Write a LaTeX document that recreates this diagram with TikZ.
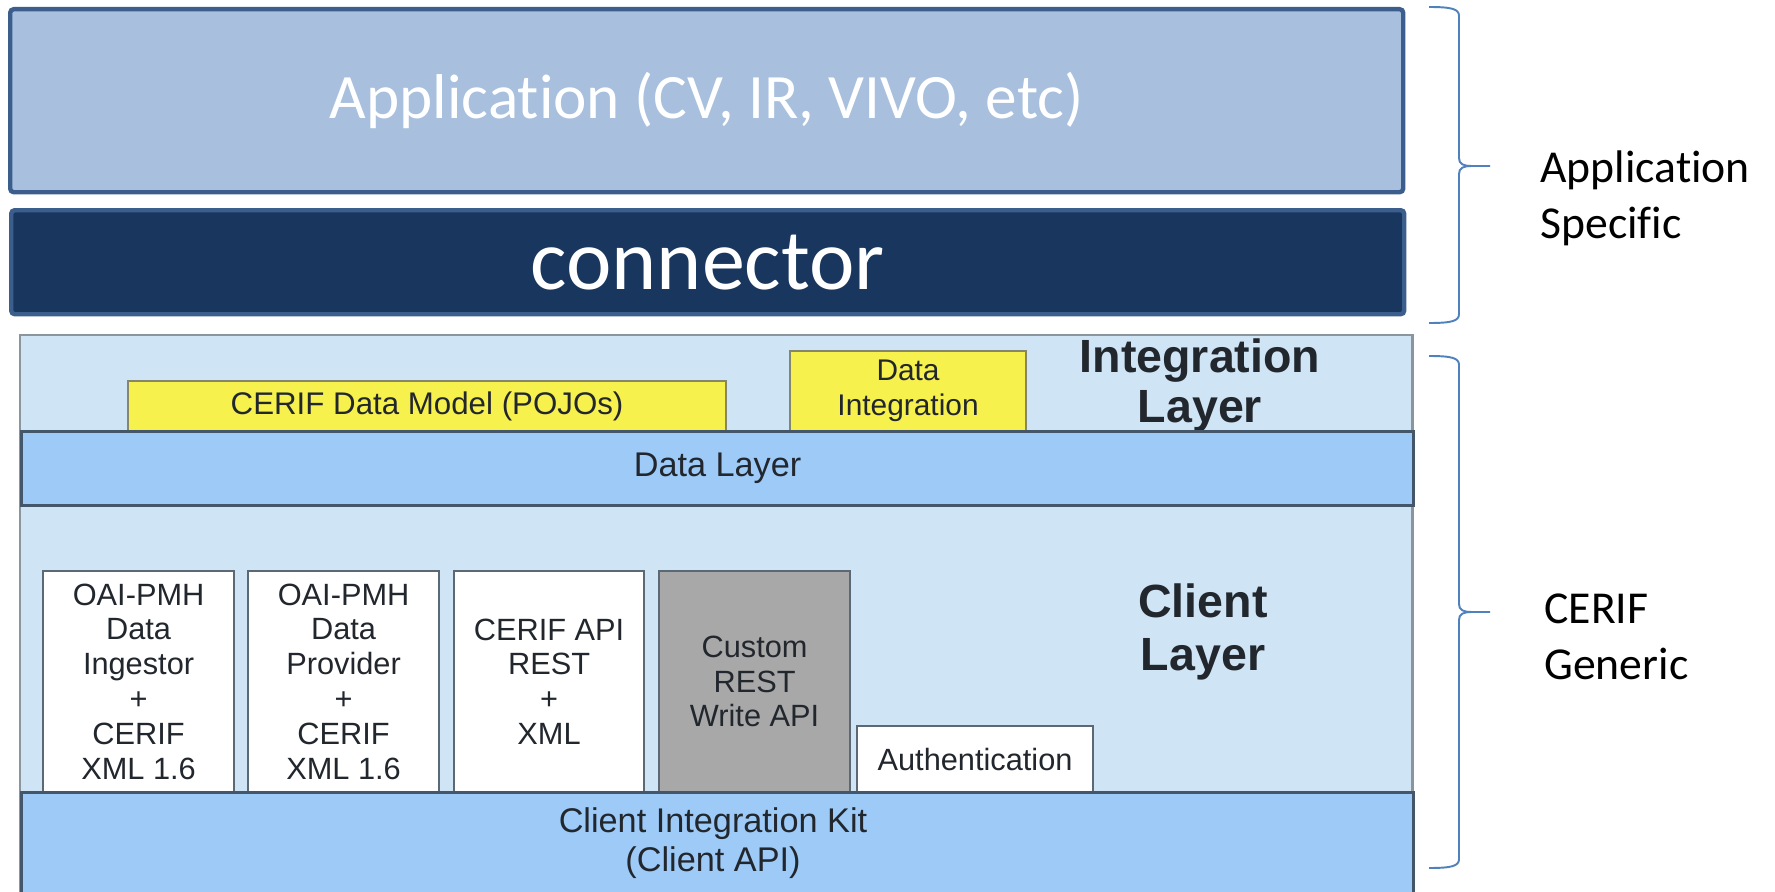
\documentclass[tikz,border=0pt]{standalone}
\usepackage{fontspec}
\setmainfont{Carlito}[Ligatures=NoCommon]
\newfontfamily\arialfont{Liberation Sans}
\definecolor{appfill}{HTML}{A8C0DE}
\definecolor{appline}{HTML}{3B5E8C}
\definecolor{connfill}{HTML}{19375E}
\definecolor{genfill}{HTML}{CFE4F4}
\definecolor{genline}{HTML}{8A959E}
\definecolor{bandfill}{HTML}{9DCAF7}
\definecolor{bandline}{HTML}{43566A}
\definecolor{pojofill}{HTML}{F6F14C}
\definecolor{pojoline}{HTML}{86866A}
\definecolor{customfill}{HTML}{A8A8A8}
\definecolor{boxline}{HTML}{5B6976}
\definecolor{boxtext}{HTML}{22272E}
\definecolor{bracecol}{HTML}{4F81BD}
% right-hand curly brace: top y, tip y, bottom y
\newcommand\sidebrace[3]{\draw[bracecol, line width=1.1pt] (1429,#1) .. controls (1452,#1) and (1459,#1+2) .. (1459,#1+9) -- (1459,#2-8) .. controls (1459,#2-2) and (1463,#2) .. (1472,#2) -- (1490,#2) (1472,#2) .. controls (1463,#2) and (1459,#2+2) .. (1459,#2+8) -- (1459,#3-9) .. controls (1459,#3-2) and (1452,#3) .. (1429,#3);}
\tikzset{
	boxsize/.style 2 args={minimum width=#1*0.02cm, minimum height=#2*0.02cm, anchor=north west, inner sep=0pt},
	topbox/.style={draw=appline, line width=2.5pt, rounded corners=2pt, text=white},
	band/.style={draw=bandline, fill=bandfill, line width=1.8pt, text=boxtext, font=\arialfont\fontsize{19.5}{22.5}\selectfont, align=center},
	yellowbox/.style={draw=pojoline, fill=pojofill, line width=1.2pt, text=boxtext, align=center},
	modbox/.style={draw=boxline, fill=white, line width=1.2pt, text=boxtext, align=center, font=\arialfont\fontsize{17.5}{19.8}\selectfont},
	layertext/.style={font=\arialfont\bfseries\fontsize{26.5}{28.5}\selectfont, text=boxtext, align=center},
	sidetext/.style={font=\fontsize{26}{32}\selectfont, align=left, anchor=west, inner sep=0pt},
}
\begin{document}
\begin{tikzpicture}[x=0.02cm, y=-0.02cm]
	%%%%% START %%%%%
	\useasboundingbox (0,0) rectangle (1775,892);
	\clip (0,0) rectangle (1775,892);
	
	% application specific part
	\node[topbox, fill=appfill, boxsize={1393}{183}, font=\fontsize{36}{40}\selectfont] (app) at (8,7) {Application (CV, IR, VIVO, etc)};
	\node[topbox, fill=connfill, boxsize={1393}{104}, font=\fontsize{49}{56}\selectfont] (conn) at (9,208) {connector};
	
	% CERIF generic part
	\draw[draw=genline, fill=genfill, line width=1.7pt] (20,335) rectangle (1412,905);
	
	\node[yellowbox, boxsize={598}{50}, font=\arialfont\fontsize{17.8}{20}\selectfont] (pojo) at (127,380) {CERIF Data Model (POJOs)};
	\node[yellowbox, boxsize={236}{80}, font=\arialfont\fontsize{17}{19.8}\selectfont] (dataint) at (789,350) {Data\\Integration};
	\node[layertext] (intlayer) at (1200,385) {Integration\\Layer};
	
	\node[band, boxsize={1392}{74}] (datalayer) at (20,430) {Data Layer};
	
	\node[modbox, boxsize={191}{221}] (ingestor) at (42,570) {OAI-PMH\\Data\\Ingestor\\+\\CERIF\\XML 1.6};
	\node[modbox, boxsize={191}{221}] (provider) at (247,570) {OAI-PMH\\Data\\Provider\\+\\CERIF\\XML 1.6};
	\node[modbox, boxsize={190}{221}] (restapi) at (453,570) {CERIF API\\REST\\+\\XML};
	\node[modbox, fill=customfill, boxsize={191}{221}] (custom) at (658,570) {Custom\\REST\\Write API};
	\node[modbox, boxsize={236}{66}] (auth) at (856,725) {Authentication};
	\node[layertext, font=\arialfont\bfseries\fontsize{26.5}{30.5}\selectfont] (clientlayer) at (1203,632) {Client\\Layer};
	
	\node[band, boxsize={1392}{114}] (kit) at (20,791) {};
	\node[text=boxtext, font=\arialfont\fontsize{19.5}{22.5}\selectfont, align=center] (kittext) at (713,843) {Client Integration Kit\\(Client API)};
	
	% braces and their labels
	\sidebrace{7}{166}{323}
	\node[sidetext] (appspec) at (1540,198) {Application\\Specific};
	\sidebrace{356}{612}{868}
	\node[sidetext] (generic) at (1544,637) {CERIF\\Generic};
	
	%%%%% END %%%%%
\end{tikzpicture}
\end{document}
